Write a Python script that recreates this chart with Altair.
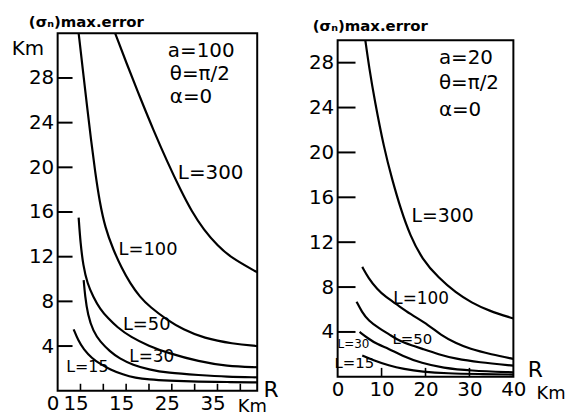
import altair as alt
import pandas as pd

FONT = "DejaVu Sans"

# ---------------- Left panel (a = 100) ----------------
left_L300_x = [12.6, 15.0, 18.0, 21.0, 24.0, 27.0, 29.3, 32.0, 35.0, 38.0, 43.7]
left_L300_y = [32.0, 29.4, 26.3, 23.3, 20.5, 17.9, 16.1, 14.4, 13.0, 11.9, 10.6]
left_L100_x = [4.6, 5.5, 6.4, 7.3, 8.2, 9.2, 10.4, 12.2, 14.0, 15.9, 18.0, 20.2, 24.1, 27.4, 32.0, 38.3, 43.7]
left_L100_y = [32.0, 28.8, 25.6, 22.5, 19.6, 16.9, 14.6, 12.6, 11.0, 9.6, 8.4, 7.5, 6.3, 5.5, 4.7, 4.2, 4.0]
left_L50_x = [4.6, 5.0, 5.6, 6.5, 7.8, 9.3, 11.0, 13.0, 16.0, 20.0, 24.0, 31.0, 37.0, 43.7]
left_L50_y = [15.5, 13.2, 11.2, 9.6, 8.4, 7.3, 6.5, 5.7, 4.8, 4.0, 3.4, 2.6, 2.2, 2.1]
left_L30_x = [5.7, 6.0, 6.6, 7.8, 9.3, 11.5, 13.5, 16.5, 20.0, 24.0, 31.0, 37.0, 43.7]
left_L30_y = [9.9, 8.5, 6.8, 5.3, 4.4, 3.5, 2.9, 2.3, 1.9, 1.6, 1.4, 1.25, 1.2]
left_L15_x = [3.5, 4.5, 5.7, 7.5, 9.3, 11.5, 14.3, 17.0, 20.0, 24.0, 31.0, 37.0, 43.7]
left_L15_y = [5.5, 4.5, 3.7, 2.9, 2.4, 1.9, 1.45, 1.15, 1.0, 0.9, 0.8, 0.78, 0.75]

left_x_ticks = [0, 5, 15, 25, 35]
left_x_labels = ["0", "15", "15", "25", "35"]
left_x_minor = [5, 10, 15, 20, 25, 30, 35, 40]
left_y_ticks = [4, 8, 12, 16, 20, 24, 28]

# ---------------- Right panel (a = 20) ----------------
right_L300_x = [6.3, 7.2, 8.4, 10.6, 12.4, 14.4, 16.5, 19.2, 23.0, 26.9, 30.5, 34.3, 40.0]
right_L300_y = [30.0, 27.5, 24.7, 20.3, 17.6, 14.9, 12.6, 10.5, 8.8, 7.5, 6.6, 5.9, 5.2]
right_L100_x = [5.6, 7.0, 9.0, 11.0, 13.3, 16.5, 20.8, 23.5, 26.9, 30.0, 35.0, 40.0]
right_L100_y = [9.8, 8.8, 7.8, 7.1, 6.5, 5.6, 4.6, 3.7, 3.0, 2.5, 2.0, 1.6]
right_L50_x = [4.3, 5.5, 7.0, 9.5, 11.7, 14.0, 16.9, 19.2, 23.0, 26.9, 32.0, 40.0]
right_L50_y = [6.7, 5.8, 5.0, 4.3, 3.8, 3.2, 2.8, 2.5, 2.0, 1.6, 1.3, 1.0]
right_L30_x = [5.0, 7.0, 9.0, 11.7, 14.5, 19.2, 24.0, 30.0, 40.0]
right_L30_y = [4.0, 3.4, 2.9, 2.5, 1.9, 1.2, 0.8, 0.55, 0.4]
right_L15_x = [5.6, 8.0, 11.7, 15.0, 19.2, 25.0, 32.0, 40.0]
right_L15_y = [1.9, 1.5, 1.0, 0.7, 0.45, 0.3, 0.25, 0.2]

right_x_ticks = [0, 10, 20, 30, 40]
right_x_minor = [10, 20, 30]
right_y_ticks = [4, 8, 12, 16, 20, 24, 28]
right_y_top = 30


def curves_df(named):
    rows = []
    for name, xs, ys in named:
        for i, (a, b) in enumerate(zip(xs, ys)):
            rows.append({"curve": name, "x": a, "y": b, "order": i})
    return pd.DataFrame(rows)


def make_panel(curves, xdom, ydom, w, h, xticks, xlabels, xlabel_offset, xminor, minor_len,
               yticks, ytick_len, curve_labels, annotations, frame_top=None):
    expr = " : ".join(
        [f"datum.value == {v} ? '{t}'" for v, t in zip(xticks, xlabels)]
    ) + " : ''"
    xaxis = alt.Axis(values=xticks, labelExpr=expr, ticks=False, domain=False, grid=False,
                     labelFontSize=20, labelPadding=3, labelOffset=xlabel_offset,
                     title=None, labelColor="black", labelFont=FONT, labelFlush=False)
    yaxis = alt.Axis(values=yticks, ticks=False, domain=False, grid=False,
                     labelFontSize=20, labelPadding=4, title=None, labelColor="black",
                     labelFont=FONT)
    xs = alt.Scale(domain=xdom, nice=False, zero=False)
    ys = alt.Scale(domain=ydom, nice=False, zero=False)

    lines = alt.Chart(curves).mark_line(color="black", strokeWidth=2.2,
                                        interpolate="basis").encode(
        x=alt.X("x:Q", scale=xs, axis=xaxis),
        y=alt.Y("y:Q", scale=ys, axis=yaxis),
        detail="curve:N",
        order="order:Q",
    )
    yt = alt.Chart(pd.DataFrame({"y": yticks})).mark_rule(color="black", strokeWidth=2).encode(
        y=alt.Y("y:Q", scale=ys, axis=yaxis),
        x=alt.value(0), x2=alt.value(ytick_len),
    )
    xt = alt.Chart(pd.DataFrame({"x": xminor})).mark_rule(color="black", strokeWidth=1.6).encode(
        x=alt.X("x:Q", scale=xs, axis=xaxis),
        y=alt.value(h), y2=alt.value(h - minor_len),
    )
    layers = [lines, yt, xt]
    if frame_top is not None:
        layers.append(
            alt.Chart(pd.DataFrame({"k": [0]})).mark_rect(
                fillOpacity=0, stroke="black", strokeWidth=2).encode(
                x=alt.value(0), x2=alt.value(w), y=alt.value(frame_top), y2=alt.value(h))
        )
    for text, lx, ly, fs in curve_labels:
        layers.append(
            alt.Chart(pd.DataFrame({"x": [lx], "y": [ly]})).mark_text(
                text=text, fontSize=fs, font=FONT, color="black").encode(
                x=alt.X("x:Q", scale=xs, axis=xaxis),
                y=alt.Y("y:Q", scale=ys, axis=yaxis),
            )
        )
    for text, px, py, fs, align, weight in annotations:
        layers.append(
            alt.Chart(pd.DataFrame({"k": [0]})).mark_text(
                text=text, fontSize=fs, font=FONT, color="black", align=align,
                fontWeight=weight).encode(x=alt.value(px), y=alt.value(py))
        )
    return alt.layer(*layers).properties(width=w, height=h)


left_curves = curves_df([
    ("L=300", left_L300_x, left_L300_y),
    ("L=100", left_L100_x, left_L100_y),
    ("L=50", left_L50_x, left_L50_y),
    ("L=30", left_L30_x, left_L30_y),
    ("L=15", left_L15_x, left_L15_y),
])
right_curves = curves_df([
    ("L=300", right_L300_x, right_L300_y),
    ("L=100", right_L100_x, right_L100_y),
    ("L=50", right_L50_x, right_L50_y),
    ("L=30", right_L30_x, right_L30_y),
    ("L=15", right_L15_x, right_L15_y),
])

title_text = "(σₙ)max.error"

left = make_panel(
    left_curves, [0, 43.7], [0, 32], 201, 360,
    left_x_ticks, left_x_labels, -5, left_x_minor, 7, left_y_ticks, 15,
    [("L=300", 33.5, 19.5, 20), ("L=100", 19.8, 12.6, 18), ("L=50", 19.5, 5.9, 18),
     ("L=30", 20.6, 3.0, 17), ("L=15", 6.5, 2.1, 16)],
    [(title_text, -29, -11, 15, "left", "bold"),
     ("Km", -30, 16, 20, "center", "normal"),
     ("a=100", 111, 18, 20, "left", "normal"),
     ("θ=π/2", 113, 41, 20, "left", "normal"),
     ("α=0", 113, 64, 20, "left", "normal"),
     ("R", 215, 359, 22, "center", "normal"),
     ("Km", 196, 376, 18, "center", "normal")],
)

# right panel: plot area spans 7 px more above its frame so that its frame sits lower
R_H, R_OFF = 346, 7
right = make_panel(
    right_curves, [0, 40], [0, right_y_top * R_H / (R_H - R_OFF)], 177, R_H,
    right_x_ticks, [str(v) for v in right_x_ticks], 0, right_x_minor, 9, right_y_ticks, 18,
    [("L=300", 23.9, 14.3, 19), ("L=100", 19.0, 6.9, 17), ("L=50", 17.0, 3.4, 15),
     ("L=30", 3.6, 2.9, 12), ("L=15", 3.8, 1.2, 15)],
    [(title_text, -25, -14 + R_OFF, 15, "left", "bold"),
     ("a=20", 102, 18 + R_OFF, 20, "left", "normal"),
     ("θ=π/2", 102, 43 + R_OFF, 20, "left", "normal"),
     ("α=0", 102, 70 + R_OFF, 20, "left", "normal"),
     ("R", 199, 332 + R_OFF, 22, "center", "normal"),
     ("Km", 215, 356 + R_OFF, 18, "center", "normal")],
    frame_top=R_OFF,
).properties(view=alt.ViewBackground(strokeOpacity=0))

chart = alt.hconcat(left, right, spacing=28).properties(
    padding={"left": 2, "top": 5, "right": 0, "bottom": 0}
).configure_view(stroke="black", strokeWidth=2)

chart.save("out.html", embed_options={"renderer": "svg", "actions": False})
